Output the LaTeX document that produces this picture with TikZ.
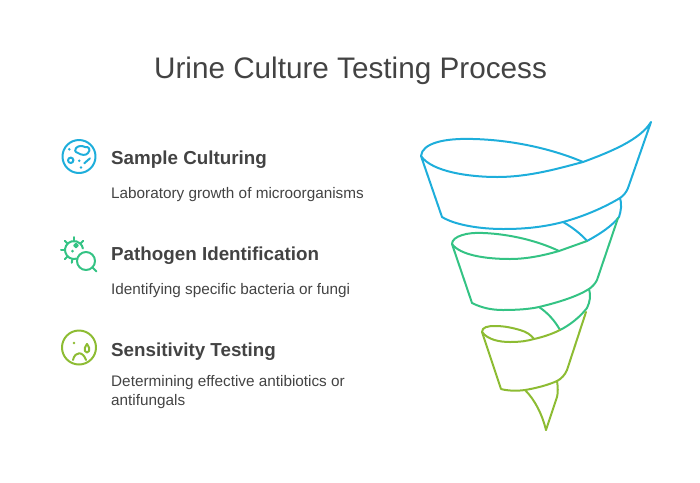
\documentclass[tikz,border=0pt]{standalone}
\usepackage{fontspec}
\setmainfont{Liberation Sans}
\usetikzlibrary{positioning}

\definecolor{inkgray}{HTML}{434343}
\definecolor{stepblue}{HTML}{1EAEDB}
\definecolor{stepgreen}{HTML}{34C384}
\definecolor{steplime}{HTML}{8DBC33}

\tikzset{
	headline/.style={anchor=base west, inner sep=0pt, text=inkgray, font=\fontsize{18.8}{23}\selectfont\bfseries},
	blurb/.style={anchor=base west, inner sep=0pt, text=inkgray, align=left, font=\fontsize{15.3}{19}\selectfont},
	funnel/.style={line width=2pt, line join=round, line cap=round},
	glyph/.style={line width=2pt, line cap=round, line join=round}
}

\begin{document}
\begin{tikzpicture}[x=1pt, y=-1pt]
	\useasboundingbox (0,0) rectangle (700,482);
	
	\node[anchor=base, inner sep=0pt, text=inkgray, font=\fontsize{29.7}{36}\selectfont] (title) at (350.5,78) {Urine Culture Testing Process};
	
	\node[headline] (culturing) at (111,164) {Sample Culturing};
	\node[blurb] (culturingtext) at (111,198) {Laboratory growth of microorganisms};
	\node[headline] (pathogen) at (111,260) {Pathogen Identification};
	\node[blurb] (pathogentext) at (111,294) {Identifying specific bacteria or fungi};
	\node[headline] (sensitivity) at (111,356) {Sensitivity Testing};
	\node[blurb] (sensitivitytext) at (111,405) {Determining effective antibiotics or\\antifungals};
	
	% icons
	\begin{scope}[glyph, stepblue]
		\draw (79,156.5) circle (16.5);
		\draw (76,148) .. controls (79,145) and (83,146) .. (85,147) .. controls (89,146) and (91,150) .. (88,153) .. controls (86,156) and (81,155) .. (78,153) .. controls (75,152) and (74,150) .. (76,148);
		\draw (70.7,160.3) circle (2.7);
		\draw (84.3,163.3) -- (90,158.3);
		\fill (69.3,149.3) circle (1.4);
		\fill (79.3,160.7) circle (1.4);
		\fill (81,167.5) circle (1.4);
	\end{scope}
	
	\begin{scope}[glyph, stepgreen]
		\draw (74,250) ++(75:9) arc (75:350:9);
		\foreach \ang in {100,135,180,225,270,315} {
			\draw (74,250) ++(\ang:9) -- ++(\ang:4);
		}
		\fill (72.5,251) circle (1.5);
		\draw (76,245.5) circle (1.8);
		\draw (86,261) circle (9);
		\draw (92.5,267.5) -- (96.5,271.5);
	\end{scope}
	
	\begin{scope}[glyph, steplime]
		\draw (79,347.5) circle (17);
		\fill (74,343) circle (1.4);
		\draw (73,360) .. controls (75,351) and (83,351) .. (86,360);
		\draw (87,344) .. controls (85,347) and (84,349) .. (85,351) .. controls (86,353) and (88,353) .. (89,351) .. controls (90,349) and (89,347) .. (87,344);
	\end{scope}
	
	% blue part of the funnel
	\begin{scope}[funnel, stepblue]
		\draw (421,156) .. controls (422,143) and (445,138) .. (473,139) .. controls (515,140) and (555,150) .. (583,162);
		\draw (421,156) .. controls (432,172) and (470,177) .. (497,177) .. controls (530,177) and (560,168) .. (583,162) .. controls (610,152) and (640,140) .. (651,122)
			-- (628,188) .. controls (626,193) and (623,196) .. (620,198) .. controls (605,207) and (585,216) .. (563,222) .. controls (540,228) and (520,229) .. (503,229) .. controls (480,229) and (455,225) .. (442,217) -- cycle;
		\draw (620,198) .. controls (622,204) and (621,211) .. (619,217) .. controls (612,226) and (600,234) .. (587,241);
		\draw (563,222) .. controls (572,227) and (581,234) .. (587,241);
	\end{scope}
	
	% green part
	\begin{scope}[funnel, stepgreen]
		\draw (452,244) .. controls (452,236) and (468,232) .. (483,233) .. controls (510,234) and (538,241) .. (559,251);
		\draw (452,244) .. controls (460,255) and (485,259) .. (510,259) .. controls (528,259) and (545,255) .. (559,251) -- (587,241);
		\draw (452,244) -- (472,303) .. controls (482,308) and (492,310) .. (503,310) .. controls (518,310) and (530,309) .. (539,307) .. controls (560,302) and (578,296) .. (589,289) .. controls (592,287) and (595,284) .. (597,280) -- (618,218);
		\draw (589,289) .. controls (591,295) and (590,302) .. (587,308) .. controls (580,317) and (570,325) .. (560,330);
		\draw (539,307) .. controls (548,313) and (555,321) .. (560,330);
	\end{scope}
	
	% lime part
	\begin{scope}[funnel, steplime]
		\draw (482,332) .. controls (482,327) and (488,326) .. (495,326) .. controls (505,326) and (513,328) .. (520,330) .. controls (527,332) and (531,335) .. (534,339);
		\draw (482,332) .. controls (488,340) and (500,342) .. (510,342) .. controls (520,342) and (527,341) .. (534,339) .. controls (543,337) and (552,334) .. (560,330);
		\draw (482,332) -- (501,389) .. controls (508,391) and (518,391) .. (525,390) .. controls (537,388) and (548,385) .. (557,381) .. controls (561,379) and (565,375) .. (567,370) -- (586,312);
		\draw (557,381) .. controls (558,387) and (558,393) .. (557,397) -- (546,430);
		\draw (525,390) .. controls (535,400) and (542,414) .. (546,430);
	\end{scope}
\end{tikzpicture}
\end{document}
